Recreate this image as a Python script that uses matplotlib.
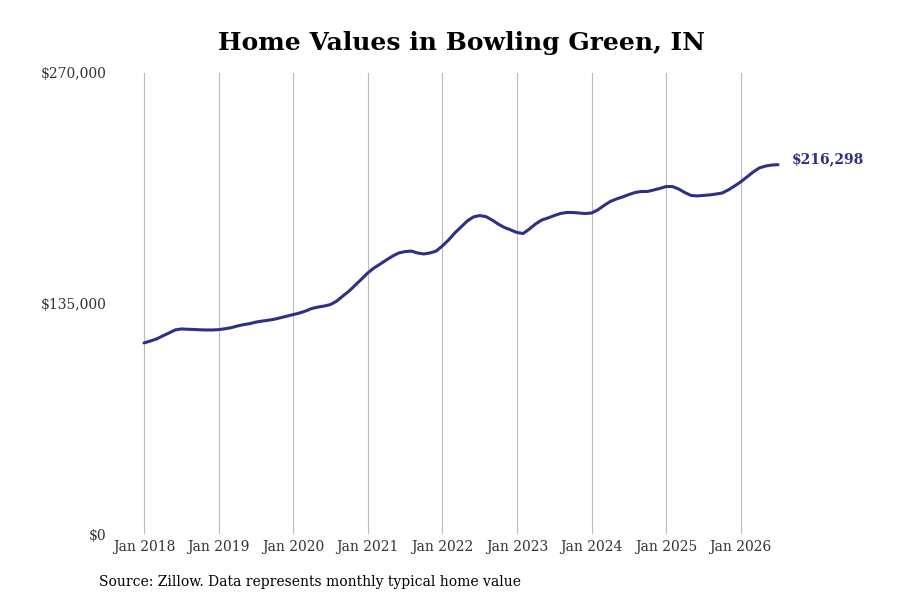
import numpy as np
import pandas as pd
import matplotlib
matplotlib.use("Agg")
import matplotlib.pyplot as plt
from matplotlib.ticker import FuncFormatter

# monthly typical home value, Jan 2018 .. Jul 2026
months = pd.date_range("2018-01-01", "2026-07-01", freq="MS")
values = [
    111900, 113000, 114200, 116000, 117700, 119500, 120100, 119900, 119800, 119600, 119500, 119500,  # 2018
    119700, 120200, 120800, 121800, 122600, 123200, 124100, 124700, 125200, 125800, 126700, 127600,  # 2019
    128500, 129400, 130600, 132100, 132900, 133500, 134400, 136400, 139400, 142300, 145800, 149300,  # 2020
    152900, 155800, 158100, 160500, 162800, 164600, 165400, 165700, 164600, 164000, 164600, 165700,  # 2021
    168700, 172200, 176300, 179800, 183300, 185700, 186500, 185900, 183900, 181500, 179500, 178100,  # 2022
    176600, 176000, 178600, 181600, 183900, 185100, 186500, 187700, 188300, 188300, 188000, 187700,  # 2023
    188000, 189800, 192400, 194700, 196200, 197400, 198800, 200000, 200600, 200600, 201500, 202400,  # 2024
    203500, 203500, 202100, 200000, 198300, 198000, 198300, 198600, 199100, 199700, 201500, 203800,  # 2025
    206200, 209100, 212000, 214400, 215500, 216100, 216298,  # 2026
]
yticks = [0, 135000, 270000]
title = "Home Values in Bowling Green, IN"
source = "Source: Zillow. Data represents monthly typical home value"

plt.rcParams['font.family'] = ['DejaVu Serif']
line_color = '#2f2f86'

x = np.arange(len(months))
fig = plt.figure(figsize=(9, 6), dpi=100)
ax = fig.add_axes([115/900, 1-534/600, (860-115)/900, (534-73)/600])

ax.plot(x, values, color=line_color, lw=2.2, solid_capstyle='round')

# x ticks at every January
jan_idx = [i for i, m in enumerate(months) if m.month == 1]
ax.set_xticks(jan_idx)
ax.set_xticklabels([months[i].strftime("Jan %Y") for i in jan_idx])
ppm = (778 - 144) / (len(x) - 1)
ax.set_xlim(-(144-115)/ppm, len(x) - 1 + (860-778)/ppm)
ax.set_ylim(0, 270000)
ax.set_yticks(yticks)
ax.yaxis.set_major_formatter(FuncFormatter(lambda v, p: "${:,.0f}".format(v)))

ax.grid(axis='x', color='#bbbbbb', lw=0.8)
ax.grid(axis='y', visible=False)
for s in ax.spines.values():
    s.set_visible(False)
ax.tick_params(axis='both', length=0, labelsize=10, colors='#333333')
ax.tick_params(axis='x', pad=4)
ax.tick_params(axis='y', pad=6)

ax.annotate("${:,.0f}".format(values[-1]), xy=(x[-1], values[-1]),
            xytext=(10, 4), textcoords='offset points', va='center', ha='left',
            color=line_color, fontsize=10, fontweight='bold')

fig.text(461/900, 1-43/600, title, ha='center', va='center', fontsize=18, fontweight='bold')
fig.text(99/900, 1-582/600, source, ha='left', va='center', fontsize=10)

fig.savefig("out.png", dpi=100)
